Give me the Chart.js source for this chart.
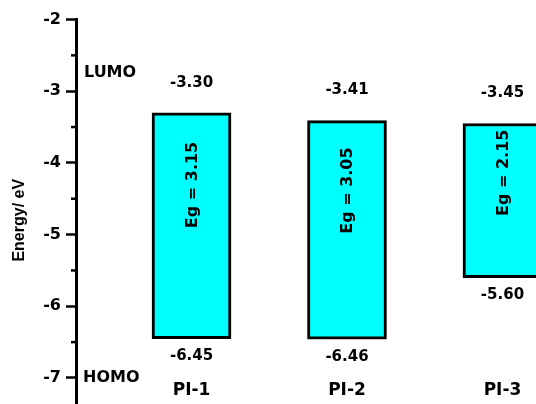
<!DOCTYPE html>
<html>
<head>
<meta charset="utf-8">
<script src="https://cdn.jsdelivr.net/npm/chart.js@4/dist/chart.umd.min.js"></script>
<style>
  html, body { margin: 0; padding: 0; background: #fff; overflow: hidden; }
  #wrap { width: 536px; height: 404px; overflow: hidden; }
</style>
</head>
<body>
<div id="wrap"><canvas id="energyChart" width="560" height="421"></canvas></div>
<script>
  // Energy levels of the three polymers (eV)
  const categories = ['PI-1', 'PI-2', 'PI-3'];
  const lumoValues = [-3.30, -3.41, -3.45];
  const homoValues = [-6.45, -6.46, -5.60];
  const bandGaps = [3.15, 3.05, 2.15];
  const levelNames = ['LUMO', 'HOMO'];

  const CYAN = '#00FFFF';
  const INK = '#000000';
  const LABEL_FONT = 'DejaVu Sans';

  // draws minor ticks, value labels, Eg texts and level / category names
  const annotate = {
    id: 'annotate',
    afterDatasetsDraw(chart) {
      const ctx = chart.ctx;
      const y = chart.scales.y;
      const x = chart.scales.x;
      const bars = chart.getDatasetMeta(0).data;

      ctx.save();
      // minor ticks at the half steps
      ctx.strokeStyle = INK;
      ctx.lineWidth = 2.5;
      for (let v = y.max - 0.5; v > y.min; v -= 1) {
        const py = y.getPixelForValue(v);
        ctx.beginPath();
        ctx.moveTo(x.left - 5, py);
        ctx.lineTo(x.left, py);
        ctx.stroke();
      }

      ctx.fillStyle = INK;
      ctx.textAlign = 'center';
      ctx.textBaseline = 'middle';

      bars.forEach((bar, i) => {
        const top = y.getPixelForValue(lumoValues[i]);
        const bottom = y.getPixelForValue(homoValues[i]);

        ctx.font = 'bold 15px "' + LABEL_FONT + '"';
        ctx.fillText(lumoValues[i].toFixed(2), bar.x, top - 30);
        ctx.fillText(homoValues[i].toFixed(2), bar.x, bottom + 18);

        ctx.save();
        ctx.translate(bar.x + 1, top + (bottom - top) * 0.32);
        ctx.rotate(-Math.PI / 2);
        ctx.font = 'bold 16px "' + LABEL_FONT + '"';
        ctx.fillText('Eg = ' + bandGaps[i].toFixed(2), 0, 0);
        ctx.restore();

        ctx.font = 'bold 17px "' + LABEL_FONT + '"';
        ctx.fillText(categories[i], bar.x, y.getPixelForValue(-7.17));
      });

      ctx.textAlign = 'left';
      ctx.font = 'bold 16px "' + LABEL_FONT + '"';
      ctx.fillText(levelNames[0], x.left + 8, y.getPixelForValue(-2.75));
      ctx.fillText(levelNames[1], x.left + 7, y.getPixelForValue(-7.0));
      ctx.restore();
    }
  };

  new Chart(document.getElementById('energyChart'), {
    type: 'bar',
    data: {
      datasets: [{
        label: 'Energy levels',
        data: categories.map((c, i) => ({ x: i + 1, y: [homoValues[i], lumoValues[i]] })),
        backgroundColor: CYAN,
        borderColor: INK,
        borderWidth: 3,
        borderSkipped: false,
        barThickness: 79
      }]
    },
    options: {
      responsive: false,
      animation: false,
      devicePixelRatio: 1,
      layout: { padding: { top: 19.5, right: 0, bottom: 0, left: 0 } },
      plugins: {
        legend: { display: false },
        tooltip: { enabled: false }
      },
      scales: {
        x: {
          type: 'linear',
          display: false,
          offset: false,
          grid: { offset: false },
          min: 0.257,
          max: 3.37
        },
        y: {
          min: -7.6,
          max: -2,
          afterFit(scale) {
            scale.width = 76;
            scale.paddingTop = 0;
            scale.paddingBottom = 0;
          },
          border: { display: true, color: INK, width: 3 },
          grid: {
            drawOnChartArea: false,
            drawTicks: true,
            tickLength: 10,
            tickWidth: 2.5,
            tickColor: INK
          },
          ticks: {
            stepSize: 1,
            includeBounds: false,
            padding: 5,
            color: INK,
            font: { family: LABEL_FONT, size: 16, weight: 'bold' }
          },
          title: {
            display: true,
            text: 'Energy/ eV',
            color: INK,
            padding: { top: 10, bottom: 0 },
            font: { family: 'Liberation Sans', size: 16, weight: 'bold' }
          }
        }
      }
    },
    plugins: [annotate]
  });
</script>
</body>
</html>
